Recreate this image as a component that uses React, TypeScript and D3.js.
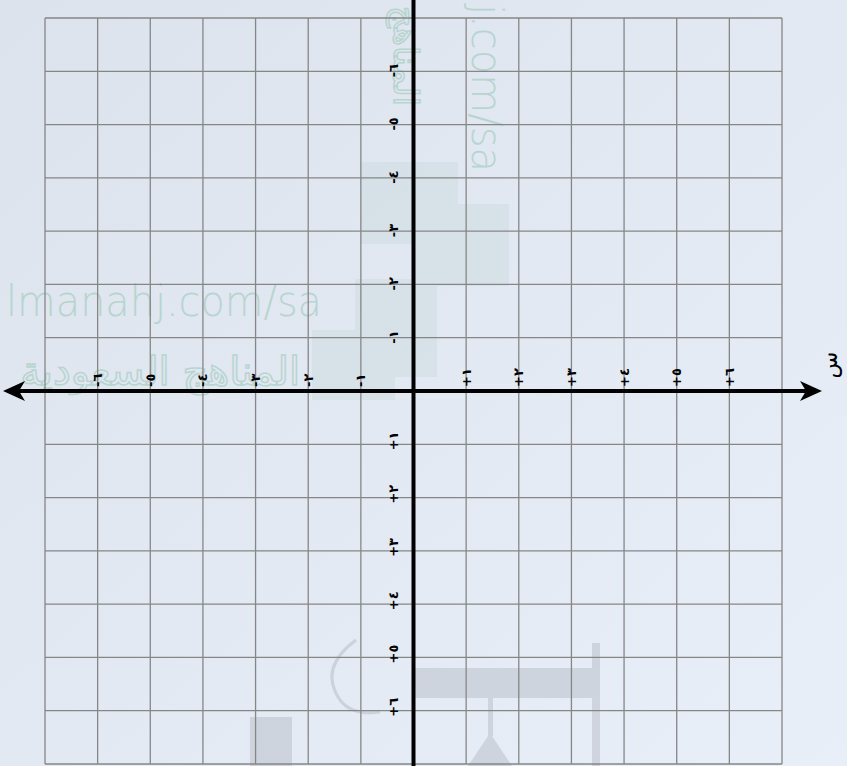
import React from 'react';
import * as d3 from 'd3';

// tick positions and labels as printed on the sheet (Arabic-Indic digits, sign under the digit)
const xTickValues = [-6, -5, -4, -3, -2, -1, 1, 2, 3, 4, 5, 6];
const xTickLabels = ['-٦', '-٥', '-٤', '-٣', '-٢', '-١', '+١', '+٢', '+٣', '+٤', '+٥', '+٦'];
const yTickValues = [-6, -5, -4, -3, -2, -1, 1, 2, 3, 4, 5, 6];
const yTickLabels = ['-٦', '-٥', '-٤', '-٣', '-٢', '-١', '+١', '+٢', '+٣', '+٤', '+٥', '+٦'];
const xAxisName = 'س';
const gridDomain = [-7, 7];

const W = 847;
const H = 766;

const App = () => {
    const x = d3.scaleLinear().domain(gridDomain).range([45, 782]);
    const y = d3.scaleLinear().domain(gridDomain).range([18, 764]);

    const gridX = x.ticks(14);
    const gridY = y.ticks(14);
    const x0 = x(0);
    const y0 = y(0);

    const labelFont = { fontFamily: 'DejaVu Sans', fontWeight: 700, fontSize: 13 };
    const wm = { fill: '#8fc4ae', opacity: 0.5 };

    return (
        <svg width={W} height={H} style={{ position: 'absolute', left: 0, top: 0 }}>
            <defs>
                <linearGradient id="bg" x1="0" y1="0" x2="1" y2="1">
                    <stop offset="0" stopColor="#dce3ed" />
                    <stop offset="1" stopColor="#e9eff8" />
                </linearGradient>
            </defs>
            <rect width={W} height={H} fill="url(#bg)" />

            {/* faint watermark */}
            <g opacity={0.35} fill="#c3d6d8">
                <rect x={360} y={162} width={98} height={82} />
                <rect x={415} y={204} width={94} height={82} />
                <rect x={355} y={279} width={82} height={98} />
                <rect x={312} y={330} width={83} height={70} />
            </g>
            <g fill="#b3b8c2" opacity={0.45}>
                <rect x={250} y={717} width={42} height={49} />
                <rect x={415} y={668} width={182} height={30} />
                <rect x={592} y={643} width={8} height={123} />
                <rect x={488} y={698} width={5} height={38} />
                <path d="M468,766 L490,733 L512,766 Z" />
            </g>
            <path d="M356,640 Q318,668 340,700 Q352,716 380,712" fill="none" stroke="#b4bac4" strokeWidth={3} opacity={0.5} />
            <text x={6} y={316} textLength={316} lengthAdjust="spacingAndGlyphs" fontFamily="DejaVu Sans"
                fontWeight={200} fontSize={42} {...wm}>lmanahj.com/sa</text>
            <text transform="translate(472,4) rotate(90)" textLength={168} lengthAdjust="spacingAndGlyphs"
                fontFamily="DejaVu Sans" fontWeight={200} fontSize={42} {...wm}>j.com/sa</text>
            <text x={300} y={385} textAnchor="end" fontFamily="DejaVu Sans" fontSize={40}
                fill="none" stroke="#8fc4ae" strokeWidth={1.5} opacity={0.5}>المناهج السعودية</text>
            <text transform="translate(394,6) rotate(90)" textAnchor="start" fontFamily="DejaVu Sans" fontSize={34}
                fill="none" stroke="#8fc4ae" strokeWidth={1.5} opacity={0.5}>المناهج</text>

            {/* grid */}
            <g stroke="#868686" strokeWidth={1.3}>
                {gridX.map(t => (
                    <line key={'gx' + t} x1={x(t)} x2={x(t)} y1={y(-7)} y2={y(7)} />
                ))}
                {gridY.map(t => (
                    <line key={'gy' + t} x1={x(-7)} x2={x(7)} y1={y(t)} y2={y(t)} />
                ))}
            </g>

            {/* axes */}
            <line x1={x0} x2={x0} y1={0} y2={H} stroke="#000" strokeWidth={4} />
            <line x1={14} x2={812} y1={y0} y2={y0} stroke="#000" strokeWidth={4} />
            <path d={`M822,${y0} L800,${y0 - 10} L806,${y0} L800,${y0 + 10} Z`} fill="#000" />
            <path d={`M3,${y0} L25,${y0 - 10} L19,${y0} L25,${y0 + 10} Z`} fill="#000" />

            {/* tick labels */}
            <g {...labelFont} fill="#000">
                {xTickValues.map((v, i) => (
                    <text key={'xl' + v} transform={`translate(${x(v)},${y0 - 4}) rotate(-90)`}
                        textAnchor="start" dominantBaseline="central">{xTickLabels[i]}</text>
                ))}
                {yTickValues.map((v, i) => (
                    <text key={'yl' + v} transform={`translate(${x0 - 20},${y(v) + 6}) rotate(-90)`}
                        textAnchor="start" dominantBaseline="central">{yTickLabels[i]}</text>
                ))}
            </g>
            <text transform={`translate(829,${y0 - 26}) rotate(-90)`} textAnchor="middle" dominantBaseline="central"
                fontFamily="DejaVu Sans" fontSize={22}>{xAxisName}</text>
        </svg>
    );
};

export default App;
